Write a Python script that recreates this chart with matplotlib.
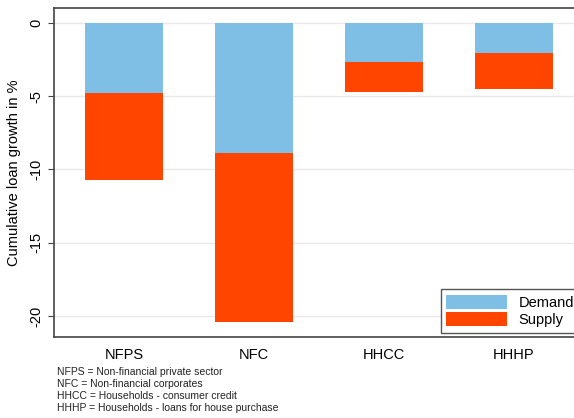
import numpy as np
import matplotlib.pyplot as plt

plt.rcParams['font.family'] = ['Liberation Sans', 'DejaVu Sans']
plt.rcParams['axes.unicode_minus'] = False

# data
sectors = ['NFPS', 'NFC', 'HHCC', 'HHHP']
demand = [-4.8, -8.85, -2.65, -2.1]
supply = [-5.9, -11.55, -2.1, -2.45]
notes = ['NFPS = Non-financial private sector',
         'NFC = Non-financial corporates',
         'HHCC = Households - consumer credit',
         'HHHP = Households - loans for house purchase']

fig = plt.figure(figsize=(5.74, 4.18), dpi=100)
ax = fig.add_axes([0.094, 0.194, 0.923, 0.787])

x = np.arange(len(sectors))
ax.bar(x, demand, width=0.6, color='#7fbfe6', label='Demand', zorder=2)
ax.bar(x, supply, width=0.6, bottom=demand, color='#ff4500', label='Supply', zorder=2)

ax.set_xlim(-0.54, 3.54)
ax.set_ylim(-21.4, 1.0)
ax.set_yticks([0, -5, -10, -15, -20])
ax.set_xticks(x)
ax.set_xticklabels(sectors, fontsize=10.5)
ax.tick_params(axis='x', length=0, pad=8)
ax.tick_params(axis='y', length=4, labelsize=10.5, labelrotation=90, color='#444444')
for lab in ax.get_yticklabels():
    lab.set_va('center')
ax.grid(axis='y', color='#e8e8e8', linewidth=1, zorder=0)
ax.set_ylabel('Cumulative loan growth in %', fontsize=10.5, labelpad=6)
for s in ['left', 'bottom', 'top']:
    ax.spines[s].set_color('#444444')
    ax.spines[s].set_linewidth(1.2)
ax.spines['right'].set_visible(False)

leg = ax.legend(loc='lower right', fontsize=10.5, fancybox=False, edgecolor='#555555',
                framealpha=1, borderaxespad=0.3, handlelength=4.2, handleheight=1.1,
                labelspacing=0.2, borderpad=0.35)
leg.get_frame().set_linewidth(1)

y0 = 418 - 372
for i, t in enumerate(notes):
    fig.text(57 / 574, (y0 - i * 12) / 418, t, fontsize=7.5, va='center', color='#222222')

fig.savefig('out.png', dpi=100)
